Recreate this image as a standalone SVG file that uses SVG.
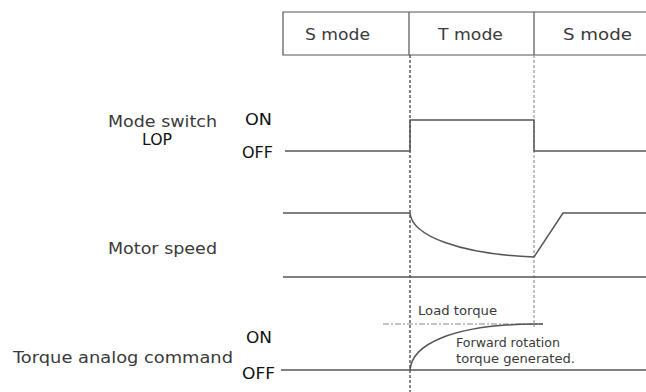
<svg xmlns="http://www.w3.org/2000/svg" width="646" height="392" viewBox="0 0 646 392">
<style>
text{font-family:"DejaVu Sans","Liberation Sans",sans-serif;fill:#3a3a3a;font-size:15px}
.sm{font-size:12px}
.lv{fill:#111}
.ln{fill:none;stroke:#555;stroke-width:1.5}
.hd{fill:none;stroke:#555;stroke-width:1.2}
.d1{fill:none;stroke:#333;stroke-width:1.2;stroke-dasharray:3 2}
.d2{fill:none;stroke:#999;stroke-width:1.2;stroke-dasharray:3 2}
.dd{fill:none;stroke:#888;stroke-width:1;stroke-dasharray:6 2 2 2}
</style>
<rect width="646" height="392" fill="#fff"/>
<g id="header">
<path class="hd" d="M646,12H283V55H646M409,12V55M534,12V55"/>
<text x="305" y="40" textLength="65" lengthAdjust="spacingAndGlyphs">S mode</text>
<text x="438" y="40" textLength="65" lengthAdjust="spacingAndGlyphs">T mode</text>
<text x="563" y="40" textLength="69" lengthAdjust="spacingAndGlyphs">S mode</text>
</g>
<g id="connectors">
<path class="d1" d="M410,55V392"/>
<path class="d2" d="M534,55V327"/>
</g>
<g id="mode-switch">
<text x="108" y="127" textLength="109" lengthAdjust="spacingAndGlyphs">Mode switch</text>
<text class="lv" x="142" y="145" textLength="30" lengthAdjust="spacingAndGlyphs">LOP</text>
<text class="lv" x="245" y="125" textLength="27" lengthAdjust="spacingAndGlyphs">ON</text>
<text class="lv" x="242" y="158" textLength="31" lengthAdjust="spacingAndGlyphs">OFF</text>
<path class="ln" d="M285,151H410V120H534V151H646"/>
</g>
<g id="motor-speed">
<text x="108" y="254" textLength="109" lengthAdjust="spacingAndGlyphs">Motor speed</text>
<path class="ln" d="M283,213H410C412,236 460,254 534,257L563,213H646"/>
<path class="ln" d="M283,277H646"/>
</g>
<g id="torque">
<text x="13" y="363" textLength="220" lengthAdjust="spacingAndGlyphs">Torque analog command</text>
<text class="lv" x="246" y="343" textLength="26" lengthAdjust="spacingAndGlyphs">ON</text>
<text class="lv" x="242" y="379" textLength="33" lengthAdjust="spacingAndGlyphs">OFF</text>
<path class="ln" d="M281,370H646"/>
<path class="dd" d="M383,324H543"/>
<path class="ln" d="M410,370C412,345 450,325 534,324H543"/>
<text class="sm" x="418" y="315" textLength="79" lengthAdjust="spacingAndGlyphs">Load torque</text>
<text class="sm" x="456" y="347" textLength="104" lengthAdjust="spacingAndGlyphs">Forward rotation</text>
<text class="sm" x="456" y="363" textLength="119" lengthAdjust="spacingAndGlyphs">torque generated.</text>
</g>
</svg>
